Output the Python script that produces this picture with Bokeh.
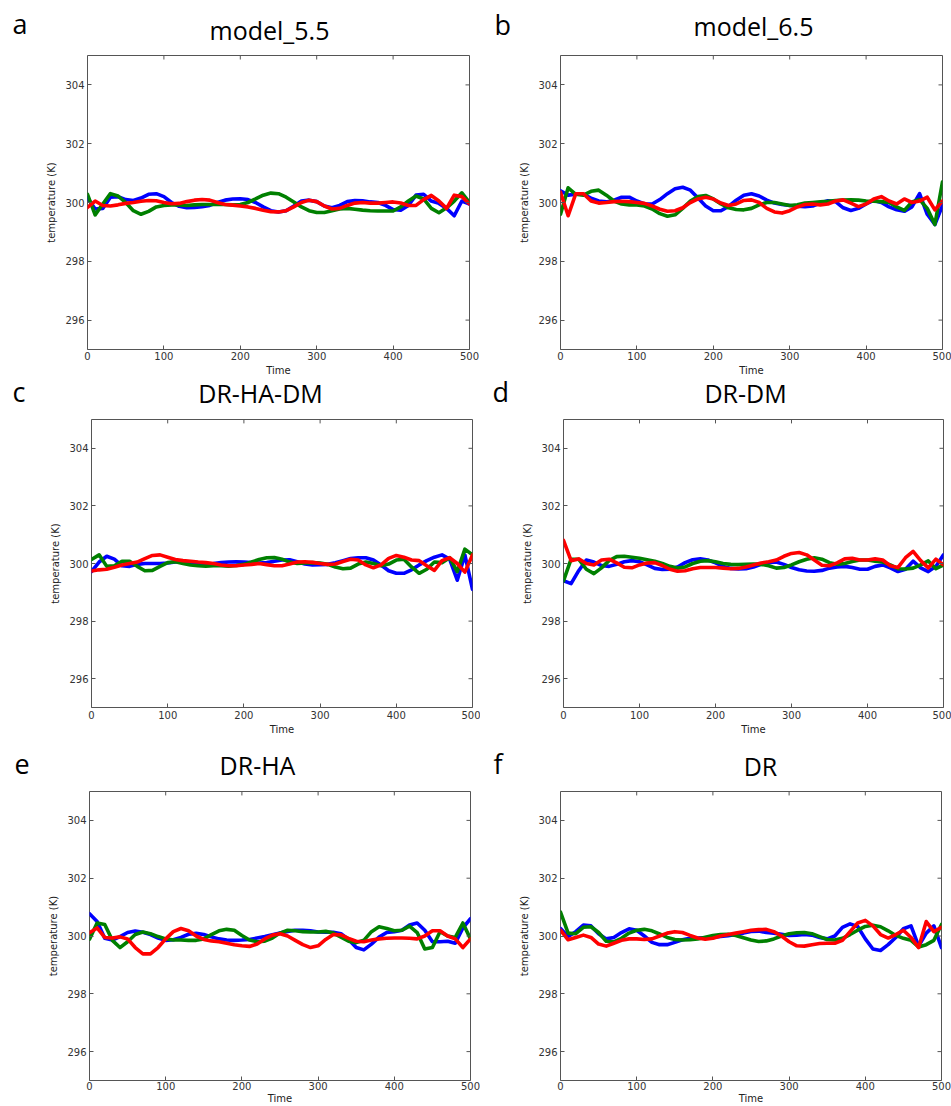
from bokeh.plotting import figure
from bokeh.layouts import column, row
from bokeh.models import Range1d, FixedTicker
from bokeh.core.properties import value
from bokeh.embed import file_html
from bokeh.resources import INLINE

TIME = list(range(0, 501, 10))
X_TICKS = [0, 100, 200, 300, 400, 500]
Y_TICKS = [296, 298, 300, 302, 304]
COLORS = ["#0000ff", "#008000", "#ff0000"]
TITLES = ["model_5.5", "model_6.5", "DR-HA-DM", "DR-DM", "DR-HA", "DR"]
LETTERS = ["a", "b", "c", "d", "e", "f"]
X_LABEL = "Time"
Y_LABEL = "temperature (K)"

A_BLUE = [300.16, 299.78, 299.8, 300.18, 300.2, 300.1, 300.07, 300.15, 300.28, 300.3,
          300.2, 300.0, 299.87, 299.82, 299.83, 299.86, 299.9, 300.0, 300.08, 300.12,
          300.13, 300.1, 300.0, 299.85, 299.72, 299.68, 299.72, 299.88, 300.05, 300.08,
          300.03, 299.88, 299.82, 299.9, 300.03, 300.07, 300.06, 300.02, 300.0, 299.9,
          299.76, 299.74, 299.9, 300.25, 300.28, 300.05, 299.97, 299.8, 299.55, 300.05, 299.95]
A_GREEN = [300.28, 299.58, 299.95, 300.3, 300.22, 300.0, 299.72, 299.6, 299.7, 299.85,
           299.9, 299.92, 299.92, 299.9, 299.92, 299.93, 299.93, 299.93, 299.93, 299.92,
           299.93, 300.0, 300.12, 300.25, 300.32, 300.3, 300.18, 300.02, 299.85, 299.72,
           299.66, 299.66, 299.72, 299.78, 299.8, 299.77, 299.74, 299.72, 299.71, 299.71,
           299.71, 299.85, 300.05, 300.22, 300.12, 299.8, 299.65, 299.82, 300.05, 300.33, 300.0]
A_RED = [299.83, 300.05, 299.9, 299.88, 299.92, 299.97, 300.0, 300.04, 300.07, 300.06,
         300.0, 299.96, 299.97, 300.03, 300.08, 300.1, 300.08, 300.0, 299.93, 299.91,
         299.88, 299.85, 299.8, 299.74, 299.69, 299.68, 299.72, 299.85, 300.0, 300.08,
         300.03, 299.88, 299.78, 299.8, 299.9, 299.98, 300.0, 299.98, 299.98, 300.0,
         300.02, 299.98, 299.9, 299.9, 300.1, 300.24, 300.05, 299.8, 300.25, 300.2, 299.95]

B_BLUE = [300.4, 300.25, 300.28, 300.28, 300.15, 300.05, 300.02, 300.08, 300.18, 300.18,
          300.05, 299.95, 299.95, 300.1, 300.3, 300.47, 300.52, 300.42, 300.15, 299.88,
          299.72, 299.72, 299.87, 300.08, 300.25, 300.3, 300.22, 300.08, 299.98, 299.93,
          299.9, 299.87, 299.86, 299.88, 299.98, 300.06, 300.03, 299.82, 299.73, 299.8,
          299.95, 300.07, 300.0, 299.85, 299.75, 299.7, 299.85, 300.3, 299.6, 299.25, 299.9]
B_GREEN = [299.6, 300.5, 300.28, 300.25, 300.38, 300.42, 300.25, 300.05, 299.95, 299.92,
           299.92, 299.88, 299.78, 299.62, 299.53, 299.58, 299.8, 300.05, 300.2, 300.24,
           300.12, 299.95, 299.82, 299.76, 299.75, 299.8, 299.92, 300.0, 300.0, 299.95,
           299.9, 299.92, 299.98, 300.0, 300.02, 300.04, 300.07, 300.08, 300.09, 300.08,
           300.05, 300.04, 300.03, 300.0, 299.85, 299.73, 300.02, 300.1, 299.8, 299.25, 300.7]
B_RED = [300.35, 299.55, 300.3, 300.3, 300.05, 299.98, 300.0, 300.03, 300.04, 300.03,
         300.0, 299.97, 299.88, 299.77, 299.7, 299.72, 299.82, 300.0, 300.12, 300.18,
         300.12, 299.98, 299.9, 299.95, 300.07, 300.09, 300.0, 299.8, 299.68, 299.64,
         299.72, 299.85, 299.93, 299.95, 299.92, 299.95, 300.05, 300.09, 299.98, 299.86,
         299.95, 300.12, 300.2, 300.05, 299.95, 300.12, 300.0, 300.05, 300.18, 299.75, 300.05]

C_BLUE = [299.72, 300.05, 300.25, 300.15, 299.92, 299.9, 299.97, 300.0, 300.0, 300.0,
          300.02, 300.05, 300.05, 300.02, 299.98, 299.98, 300.0, 300.03, 300.05, 300.06,
          300.05, 300.03, 300.02, 300.03, 300.08, 300.12, 300.13, 300.06, 299.98, 299.95,
          299.96, 299.97, 300.03, 300.1, 300.17, 300.2, 300.2, 300.12, 299.95, 299.75,
          299.66, 299.66, 299.78, 299.95, 300.1, 300.22, 300.3, 300.15, 299.42, 300.3, 299.1]
C_GREEN = [300.14, 300.3, 299.9, 299.92, 300.08, 300.08, 299.9, 299.75, 299.76, 299.9,
           300.03, 300.06, 300.0, 299.95, 299.92, 299.91, 299.92, 299.92, 299.91, 299.93,
           299.97, 300.05, 300.14, 300.2, 300.21, 300.15, 300.05, 300.0, 300.02, 300.03,
           300.02, 299.97, 299.88, 299.82, 299.84, 299.98, 300.05, 300.0, 299.92, 299.98,
           300.12, 300.15, 299.88, 299.66, 299.8, 300.05, 300.03, 300.2, 299.72, 300.5, 300.3]
C_RED = [299.74, 299.78, 299.8, 299.87, 299.95, 300.0, 300.05, 300.17, 300.28, 300.3,
         300.22, 300.14, 300.1, 300.08, 300.05, 300.03, 300.0, 299.95, 299.92, 299.92,
         299.95, 299.97, 300.0, 299.96, 299.92, 299.92, 299.98, 300.05, 300.06, 300.04,
         300.0, 299.97, 299.98, 300.07, 300.15, 300.12, 299.95, 299.85, 299.95, 300.18,
         300.28, 300.22, 300.12, 300.1, 299.92, 299.76, 300.1, 300.2, 300.0, 299.7, 300.3]

D_BLUE = [299.4, 299.3, 299.75, 300.12, 300.05, 299.93, 299.9, 299.97, 300.06, 300.1,
          300.06, 299.95, 299.83, 299.79, 299.8, 299.88, 300.03, 300.13, 300.16, 300.12,
          300.02, 299.9, 299.83, 299.81, 299.82, 299.88, 299.97, 300.03, 300.05, 299.97,
          299.86, 299.78, 299.74, 299.73, 299.76, 299.84, 299.88, 299.9, 299.86, 299.8,
          299.8, 299.9, 299.95, 299.85, 299.72, 299.8, 300.08, 299.85, 299.72, 299.9, 300.3]
D_GREEN = [299.4, 300.15, 300.15, 299.8, 299.65, 299.85, 300.1, 300.24, 300.25, 300.22,
           300.18, 300.13, 300.08, 300.0, 299.9, 299.84, 299.88, 300.0, 300.08, 300.1,
           300.06, 300.0, 299.97, 299.96, 299.97, 299.98, 299.97, 299.92, 299.84, 299.86,
           299.95, 300.06, 300.15, 300.2, 300.15, 300.03, 299.97, 300.0, 300.07, 300.12,
           300.12, 300.08, 300.05, 299.95, 299.82, 299.81, 299.84, 299.95, 300.09, 299.82, 299.95]
D_RED = [300.8, 300.1, 300.16, 300.0, 299.95, 300.12, 300.15, 300.02, 299.87, 299.85,
         299.95, 300.02, 300.03, 299.93, 299.8, 299.73, 299.75, 299.82, 299.86, 299.86,
         299.86, 299.84, 299.82, 299.83, 299.88, 299.95, 300.02, 300.06, 300.12, 300.25,
         300.35, 300.38, 300.3, 300.12, 299.94, 299.92, 300.02, 300.16, 300.18, 300.12,
         300.12, 300.16, 300.12, 299.92, 299.86, 300.2, 300.42, 300.1, 299.85, 300.15, 299.95]

E_BLUE = [300.77, 300.5, 299.92, 299.86, 299.98, 300.12, 300.17, 300.13, 300.05, 299.93,
          299.85, 299.87, 299.95, 300.06, 300.09, 300.05, 299.97, 299.9, 299.86, 299.85,
          299.86, 299.88, 299.93, 299.98, 300.04, 300.1, 300.16, 300.2, 300.2, 300.18,
          300.14, 300.13, 300.13, 300.08, 299.88, 299.6, 299.52, 299.72, 299.96, 300.12,
          300.15, 300.2, 300.38, 300.45, 300.2, 299.8, 299.8, 299.82, 299.75, 300.28, 300.6]
E_GREEN = [299.89, 300.45, 300.4, 299.85, 299.6, 299.8, 300.05, 300.14, 300.08, 299.98,
           299.9, 299.86, 299.86, 299.85, 299.85, 299.9, 300.05, 300.18, 300.23, 300.2,
           300.02, 299.86, 299.8, 299.82, 299.93, 300.1, 300.2, 300.18, 300.15, 300.14,
           300.14, 300.16, 300.1, 299.96, 299.82, 299.77, 299.85, 300.15, 300.32, 300.26,
           300.18, 300.2, 300.34, 300.12, 299.55, 299.6, 300.15, 300.0, 299.95, 300.45, 299.9]
E_RED = [300.11, 300.28, 299.95, 299.93, 299.97, 299.9, 299.6, 299.38, 299.38, 299.6,
         299.9, 300.15, 300.26, 300.18, 300.0, 299.88, 299.83, 299.8, 299.75, 299.7,
         299.66, 299.64, 299.72, 299.9, 300.03, 300.08, 300.0, 299.85, 299.7, 299.6,
         299.66, 299.88, 300.05, 300.04, 299.92, 299.82, 299.8, 299.86, 299.9, 299.92,
         299.93, 299.93, 299.92, 299.9, 300.0, 300.18, 300.18, 300.0, 299.9, 299.6, 299.9]

F_BLUE = [300.26, 299.98, 300.15, 300.38, 300.35, 300.08, 299.9, 299.95, 300.12, 300.25,
          300.2, 300.0, 299.78, 299.7, 299.7, 299.78, 299.87, 299.92, 299.93, 299.94,
          299.95, 299.98, 300.01, 300.05, 300.1, 300.16, 300.17, 300.12, 300.1, 300.06,
          300.02, 300.03, 300.05, 300.03, 299.95, 299.9, 300.0, 300.3, 300.42, 300.33,
          299.9, 299.55, 299.5, 299.7, 299.95, 300.25, 300.35, 299.65, 300.1, 300.35, 299.6]
F_GREEN = [300.83, 300.1, 300.08, 300.3, 300.32, 300.12, 299.82, 299.8, 299.92, 300.1,
           300.2, 300.23, 300.18, 300.07, 299.95, 299.88, 299.86, 299.87, 299.9, 299.96,
           300.02, 300.05, 300.06, 300.02, 299.94, 299.86, 299.81, 299.83, 299.9, 300.0,
           300.08, 300.11, 300.12, 300.08, 299.98, 299.88, 299.86, 299.92, 300.05, 300.2,
           300.33, 300.37, 300.32, 300.18, 300.02, 299.92, 299.85, 299.62, 299.7, 299.85, 300.4]
F_RED = [300.2, 299.87, 299.95, 300.03, 299.95, 299.72, 299.65, 299.75, 299.85, 299.9,
         299.9, 299.88, 299.9, 300.0, 300.1, 300.15, 300.12, 300.02, 299.93, 299.89,
         299.92, 300.0, 300.05, 300.1, 300.15, 300.2, 300.22, 300.23, 300.15, 300.0,
         299.8, 299.66, 299.65, 299.7, 299.74, 299.75, 299.75, 299.85, 300.15, 300.45,
         300.54, 300.35, 300.05, 299.93, 300.05, 300.2, 299.95, 299.6, 300.5, 300.15, 300.3]

SERIES = [
    [A_BLUE, A_GREEN, A_RED],
    [B_BLUE, B_GREEN, B_RED],
    [C_BLUE, C_GREEN, C_RED],
    [D_BLUE, D_GREEN, D_RED],
    [E_BLUE, E_GREEN, E_RED],
    [F_BLUE, F_GREEN, F_RED],
]

PAGE_W = 951
FRAME = "#555555"
TXT = "#333333"
TICK_PX = 4

# panel geometry: (width, height, border left, right, top, bottom, x-label mode)
# mode: "strip" = x label drawn in the next header strip, "normal", "tight"
GEOM = [
    (480, 316, 87, 11, 7, 15, "strip"),
    (471, 316, 80, 9, 7, 14, "strip"),
    (480, 333, 91, 8, 1, 37, "normal"),
    (471, 333, 83, 8, 8, 31, "normal"),
    (480, 318, 89, 10, 2, 22, "tight"),
    (471, 318, 80, 10, 3, 21, "tight"),
]

# header strips (height) and the texts they hold: (x, y, text, size, align, font, colour)
STRIP_H = [48, 47, 44]
STRIP_TEXT = [
    [(269, 29, TITLES[0], "25px", "center", "Open Sans", "black"),
     (753, 25, TITLES[1], "25px", "center", "Open Sans", "black"),
     (12, 23, LETTERS[0], "27px", "left", "Open Sans", "black"),
     (494, 24, LETTERS[1], "27px", "left", "Open Sans", "black")],
    [(278, 6, X_LABEL, "10px", "center", "DejaVu Sans", "#222222"),
     (751, 6, X_LABEL, "10px", "center", "DejaVu Sans", "#222222"),
     (260, 28, TITLES[2], "25px", "center", "Open Sans", "black"),
     (745, 28, TITLES[3], "25px", "center", "Open Sans", "black"),
     (12, 27, LETTERS[2], "27px", "left", "Open Sans", "black"),
     (492, 27, LETTERS[3], "27px", "left", "Open Sans", "black")],
    [(257, 20, TITLES[4], "25px", "center", "Open Sans", "black"),
     (760, 21, TITLES[5], "25px", "center", "Open Sans", "black"),
     (14, 19, LETTERS[4], "27px", "left", "Open Sans", "black"),
     (493, 19, LETTERS[5], "27px", "left", "Open Sans", "black")],
]


def make_strip(r):
    h = STRIP_H[r]
    s = figure(width=PAGE_W, height=h, x_range=Range1d(0, PAGE_W), y_range=Range1d(h, 0),
               output_backend="svg", toolbar_location=None, title=None,
               min_border=0, min_border_left=0, min_border_right=0,
               min_border_top=0, min_border_bottom=0)
    s.axis.visible = False
    s.grid.visible = False
    s.outline_line_color = None
    s.background_fill_color = "white"
    s.border_fill_color = "white"
    for (x, y, t, size, align, font, color) in STRIP_TEXT[r]:
        s.text(x=[x], y=[y], text=[t], text_font=value(font), text_font_size=size,
               text_align=align, text_baseline="alphabetic", text_color=color)
    return s


def style_axis(ax):
    ax.major_tick_in = TICK_PX
    ax.major_tick_out = 0
    ax.minor_tick_line_color = None
    ax.major_tick_line_color = FRAME
    ax.axis_line_color = None
    ax.major_label_text_font = "DejaVu Sans"
    ax.major_label_text_font_size = "10px"
    ax.major_label_text_color = TXT
    ax.axis_label_text_font = "DejaVu Sans"
    ax.axis_label_text_font_size = "10px"
    ax.axis_label_text_font_style = "normal"
    ax.axis_label_text_color = "#222222"


def make_panel(i):
    w, h, bl, br, bt, bb, mode = GEOM[i]
    x0, x1, y0, y1 = 0, 500, 295, 305
    p = figure(width=w, height=h, x_range=Range1d(x0, x1), y_range=Range1d(y0, y1),
               output_backend="svg", toolbar_location=None, title=None,
               min_border_left=bl, min_border_right=br, min_border_top=bt, min_border_bottom=bb)
    p.grid.visible = False
    p.outline_line_color = FRAME
    p.outline_line_width = 1
    p.background_fill_color = "white"
    p.border_fill_color = "white"

    for vals, c in zip(SERIES[i], COLORS):
        p.line(TIME, vals, line_color=c, line_width=3.6, line_join="round", line_cap="round")

    # inward ticks on the top and right edges of the box
    fw = w - bl - br
    fh = h - bt - bb
    dy = TICK_PX * (y1 - y0) / fh
    dx = TICK_PX * (x1 - x0) / fw
    p.segment(x0=X_TICKS, y0=[y1] * len(X_TICKS), x1=X_TICKS, y1=[y1 - dy] * len(X_TICKS),
              line_color=FRAME, line_width=1)
    p.segment(x0=[x1] * len(Y_TICKS), y0=Y_TICKS, x1=[x1 - dx] * len(Y_TICKS), y1=Y_TICKS,
              line_color=FRAME, line_width=1)

    p.xaxis.ticker = FixedTicker(ticks=X_TICKS)
    p.yaxis.ticker = FixedTicker(ticks=Y_TICKS)
    p.yaxis.axis_label = Y_LABEL
    style_axis(p.xaxis[0])
    style_axis(p.yaxis[0])
    p.yaxis.major_label_standoff = 3
    p.yaxis.axis_label_standoff = 5
    if mode == "strip":
        p.xaxis.major_label_standoff = 2
    elif mode == "tight":
        p.xaxis.axis_label = X_LABEL
        p.xaxis.major_label_standoff = 1
        p.xaxis.axis_label_standoff = 0
    else:
        p.xaxis.axis_label = X_LABEL
        p.xaxis.major_label_standoff = 3
        p.xaxis.axis_label_standoff = 2
    return p


panels = [make_panel(i) for i in range(6)]
layout = column(
    make_strip(0), row(panels[0], panels[1]),
    make_strip(1), row(panels[2], panels[3]),
    make_strip(2), row(panels[4], panels[5]),
)

open("out.html", "w").write(file_html(layout, INLINE))
